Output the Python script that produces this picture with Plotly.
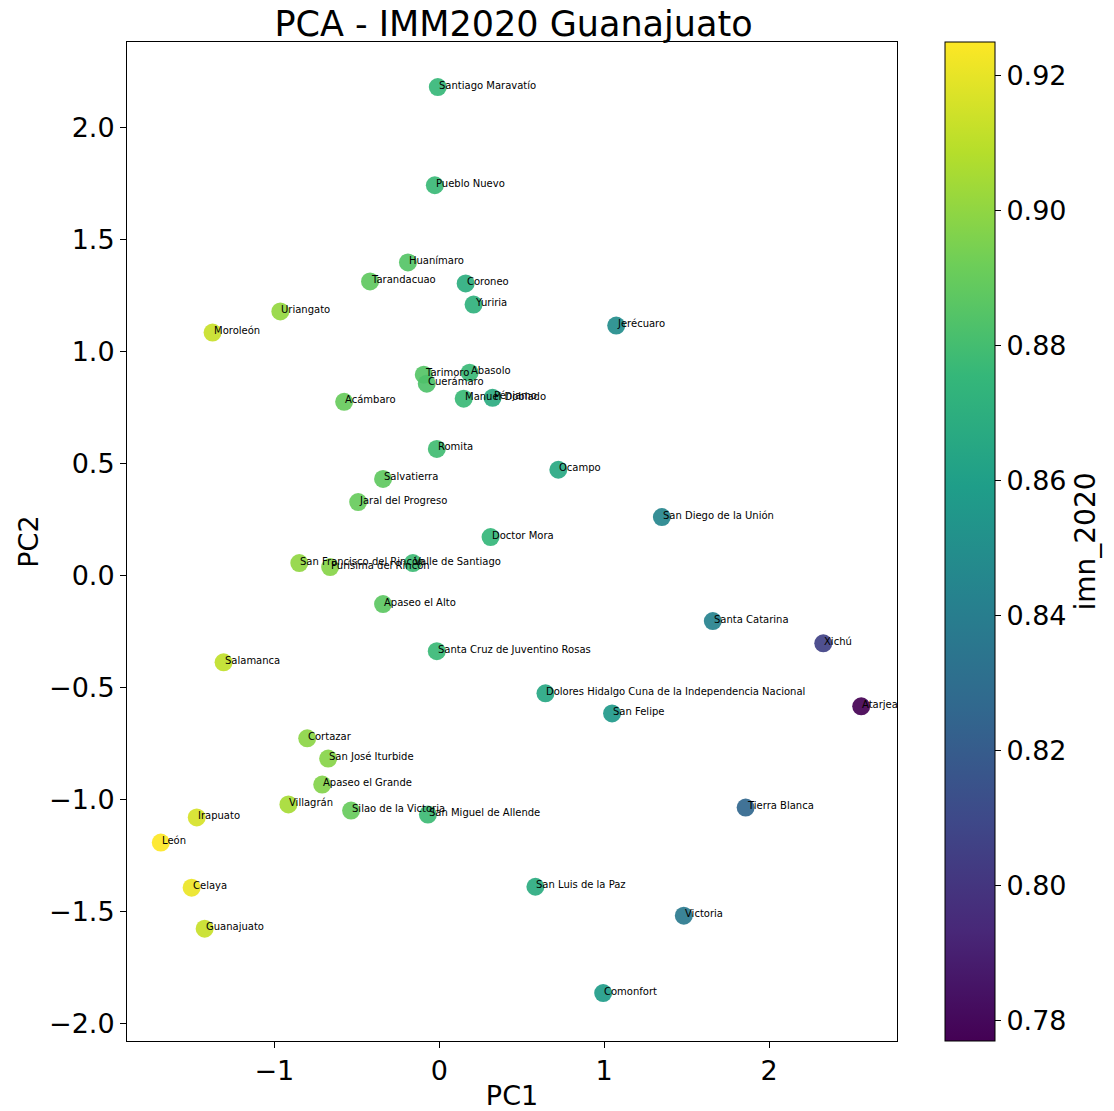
import plotly.graph_objects as go

names = ["Santiago Maravatío", "Pueblo Nuevo", "Huanímaro", "Tarandacuao", "Coroneo", "Yuriria",
         "Uriangato", "Moroleón", "Jerécuaro", "Tarimoro", "Abasolo", "Cuerámaro", "Acámbaro",
         "Manuel Doblado", "Pénjamo", "Romita", "Ocampo", "Salvatierra", "Jaral del Progreso",
         "San Diego de la Unión", "Doctor Mora", "San Francisco del Rincón", "Purísima del Rincón",
         "Valle de Santiago", "Apaseo el Alto", "Santa Catarina", "Xichú",
         "Santa Cruz de Juventino Rosas", "Salamanca",
         "Dolores Hidalgo Cuna de la Independencia Nacional", "Atarjea", "San Felipe", "Cortazar",
         "San José Iturbide", "Apaseo el Grande", "Villagrán", "Silao de la Victoria",
         "San Miguel de Allende", "Tierra Blanca", "Irapuato", "León", "Celaya",
         "San Luis de la Paz", "Victoria", "Guanajuato", "Comonfort"]

pc1 = [-0.009, -0.027, -0.19, -0.42, 0.16, 0.208,
       -0.964, -1.375, 1.073, -0.094, 0.184, -0.076, -0.577,
       0.148, 0.323, -0.015, 0.722, -0.341, -0.492,
       1.350, 0.311, -0.849, -0.662,
       -0.160, -0.341, 1.659, 2.329,
       -0.015, -1.308,
       0.644, 2.559, 1.048, -0.801,
       -0.674, -0.710, -0.915, -0.535,
       -0.069, 1.858, -1.471, -1.689, -1.502,
       0.583, 1.483, -1.423, 0.994]

pc2 = [2.179, 1.741, 1.397, 1.312, 1.303, 1.209,
       1.178, 1.084, 1.115, 0.896, 0.905, 0.856, 0.775,
       0.789, 0.793, 0.565, 0.472, 0.431, 0.328,
       0.261, 0.172, 0.056, 0.038,
       0.056, -0.127, -0.203, -0.302,
       -0.337, -0.387,
       -0.525, -0.583, -0.615, -0.726,
       -0.816, -0.932, -1.021, -1.048,
       -1.066, -1.035, -1.079, -1.191, -1.392,
       -1.388, -1.517, -1.575, -1.862]

imn_2020 = [0.876, 0.877, 0.885, 0.888, 0.870, 0.872,
            0.901, 0.913, 0.849, 0.885, 0.877, 0.883, 0.890,
            0.877, 0.868, 0.879, 0.866, 0.888, 0.890,
            0.845, 0.875, 0.900, 0.898,
            0.878, 0.887, 0.843, 0.806,
            0.877, 0.911,
            0.865, 0.777, 0.856, 0.899,
            0.898, 0.897, 0.905, 0.890,
            0.878, 0.826, 0.916, 0.925, 0.921,
            0.868, 0.837, 0.913, 0.858]

x_ticks = [-1, 0, 1, 2]
y_ticks = [-2.0, -1.5, -1.0, -0.5, 0.0, 0.5, 1.0, 1.5, 2.0]
cbar_ticks = [0.78, 0.80, 0.82, 0.84, 0.86, 0.88, 0.90, 0.92]

FONT = "DejaVu Sans"

# page body has an 8px default margin; compensate so the figure lines up with the window
W, H = 1106, 1103
L, T, R, B = 119, 34, 214, 70

fig = go.Figure()
fig.add_trace(go.Scatter(
    x=pc1, y=pc2, mode="markers",
    marker=dict(
        size=18, color=imn_2020, colorscale="Viridis", opacity=0.92,
        cmin=min(imn_2020), cmax=max(imn_2020),
        line=dict(width=0),
        colorbar=dict(
            thickness=50, len=1.0, lenmode="fraction", y=0.5, yanchor="middle",
            x=1.062, xanchor="left", xpad=0, ypad=0,
            outlinewidth=1, outlinecolor="black",
            tickvals=cbar_ticks, ticktext=[f"{v:.2f}" for v in cbar_ticks],
            ticks="outside", ticklen=6, tickcolor="black",
            tickfont=dict(family=FONT, size=27, color="black"),
            title=dict(text="imn_2020", side="right", font=dict(family=FONT, size=28, color="black")),
        ),
    ),
    hovertext=names, showlegend=False,
))

for n, a, b in zip(names, pc1, pc2):
    fig.add_annotation(x=a, y=b, text=n, showarrow=False, xanchor="left", yanchor="middle",
                       xshift=-1, yshift=2, font=dict(family=FONT, size=10, color="black"))

axis_common = dict(showgrid=False, zeroline=False, showline=True, linecolor="black", linewidth=1,
                   mirror=True, ticks="outside", ticklen=6, tickcolor="black", automargin=False,
                   tickfont=dict(family=FONT, size=27, color="black"))

fig.update_layout(
    width=W, height=H,
    margin=dict(l=L, r=R, t=T, b=B),
    plot_bgcolor="white", paper_bgcolor="white",
    title=dict(text="PCA - IMM2020 Guanajuato", x=(L + (W - R)) / 2 / W, xanchor="center",
               y=1 - 16 / H, yanchor="middle", font=dict(family=FONT, size=35, color="black")),
    xaxis=dict(range=[-1.894, 2.776], tickvals=x_ticks,
               title=dict(text="PC1", font=dict(family=FONT, size=27, color="black"), standoff=4),
               **axis_common),
    yaxis=dict(range=[-2.076, 2.380], tickvals=y_ticks, tickformat=".1f",
               title=dict(text="PC2", font=dict(family=FONT, size=27, color="black"), standoff=2),
               **axis_common),
)

fig.write_html("out.html")
